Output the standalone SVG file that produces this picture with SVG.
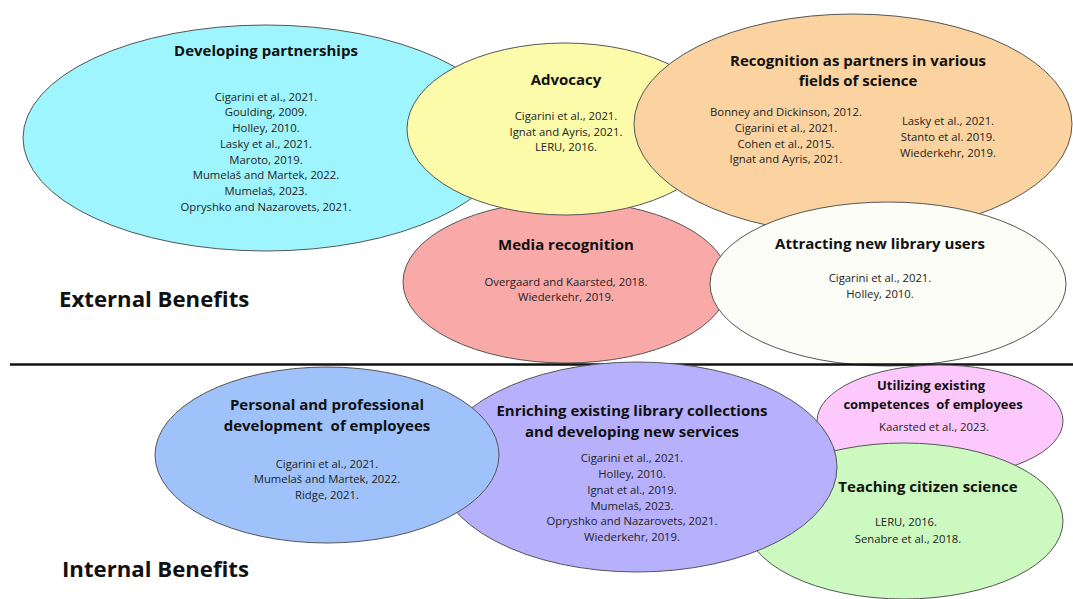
<svg xmlns="http://www.w3.org/2000/svg" width="1073" height="599" viewBox="0 0 1073 599">
<style>
.e{stroke:#555;stroke-width:1}
.t{font-family:"Open Sans","Noto Sans",sans-serif;font-weight:bold;font-size:15px;fill:#111;text-anchor:middle}
.r{font-family:"Open Sans","Noto Sans",sans-serif;font-size:11.3px;fill:#222;text-anchor:middle}
.h{font-family:"Open Sans","Noto Sans",sans-serif;font-weight:bold;font-size:22.2px;fill:#111}
</style>
<rect width="1073" height="599" fill="#fff"/>
<g id="media">
<ellipse class="e" cx="566" cy="282" rx="163" ry="81" fill="#f9a9a8"/>
<text class="t" x="566" y="250">Media recognition</text>
<text class="r" x="566" y="286">Overgaard and Kaarsted, 2018.</text>
<text class="r" x="566" y="301">Wiederkehr, 2019.</text>
</g>
<g id="developing">
<ellipse class="e" cx="266" cy="138" rx="243" ry="113" fill="#9ff5fd"/>
<text class="t" x="266" y="56">Developing partnerships</text>
<text class="r" x="266" y="101">Cigarini et al., 2021.</text>
<text class="r" x="266" y="116">Goulding, 2009.</text>
<text class="r" x="266" y="132">Holley, 2010.</text>
<text class="r" x="266" y="148">Lasky et al., 2021.</text>
<text class="r" x="266" y="164">Maroto, 2019.</text>
<text class="r" x="266" y="179">Mumelaš and Martek, 2022.</text>
<text class="r" x="266" y="195">Mumelaš, 2023.</text>
<text class="r" x="266" y="211">Opryshko and Nazarovets, 2021.</text>
</g>
<g id="advocacy">
<ellipse class="e" cx="565" cy="129" rx="158" ry="86" fill="#fbfba9"/>
<text class="t" x="566" y="85">Advocacy</text>
<text class="r" x="566" y="120">Cigarini et al., 2021.</text>
<text class="r" x="566" y="136">Ignat and Ayris, 2021.</text>
<text class="r" x="566" y="151">LERU, 2016.</text>
</g>
<g id="recognition">
<ellipse class="e" cx="853" cy="124" rx="219" ry="110" fill="#fbd3a0"/>
<text class="t" x="858" y="66">Recognition as partners in various</text>
<text class="t" x="858" y="86">fields of science</text>
<text class="r" x="786" y="116">Bonney and Dickinson, 2012.</text>
<text class="r" x="786" y="132">Cigarini et al., 2021.</text>
<text class="r" x="786" y="148">Cohen et al., 2015.</text>
<text class="r" x="786" y="163">Ignat and Ayris, 2021.</text>
<text class="r" x="948" y="125">Lasky et al., 2021.</text>
<text class="r" x="948" y="141">Stanto et al. 2019.</text>
<text class="r" x="948" y="157">Wiederkehr, 2019.</text>
</g>
<g id="attracting">
<ellipse class="e" cx="888" cy="284" rx="178" ry="82" fill="#fdfdf7"/>
<text class="t" x="880" y="249">Attracting new library users</text>
<text class="r" x="880" y="282">Cigarini et al., 2021.</text>
<text class="r" x="880" y="298">Holley, 2010.</text>
</g>
<g id="connectors">
<line x1="10" y1="364.5" x2="1073" y2="364.5" stroke="#111" stroke-width="2.5"/>
</g>
<text class="h" x="59" y="307">External Benefits</text>
<text class="h" x="62" y="577">Internal Benefits</text>
<g id="utilizing">
<ellipse class="e" cx="940" cy="421" rx="123" ry="56" fill="#fdc8fb"/>
<text class="t" x="931" y="390" style="font-size:13px">Utilizing existing</text>
<text class="t" x="933" y="409" style="font-size:13px" xml:space="preserve">competences  of employees</text>
<text class="r" x="934" y="431">Kaarsted et al., 2023.</text>
</g>
<g id="teaching">
<ellipse class="e" cx="904" cy="521" rx="159" ry="78" fill="#cbf9c0"/>
<text class="t" x="928" y="492">Teaching citizen science</text>
<text class="r" x="906" y="526">LERU, 2016.</text>
<text class="r" x="908" y="543">Senabre et al., 2018.</text>
</g>
<g id="enriching">
<ellipse class="e" cx="637" cy="467" rx="200" ry="105" fill="#b7b0fc"/>
<text class="t" x="632" y="416">Enriching existing library collections</text>
<text class="t" x="632" y="437">and developing new services</text>
<text class="r" x="632" y="462">Cigarini et al., 2021.</text>
<text class="r" x="632" y="478">Holley, 2010.</text>
<text class="r" x="632" y="494">Ignat et al., 2019.</text>
<text class="r" x="632" y="510">Mumelaš, 2023.</text>
<text class="r" x="632" y="525">Opryshko and Nazarovets, 2021.</text>
<text class="r" x="632" y="541">Wiederkehr, 2019.</text>
</g>
<g id="personal">
<ellipse class="e" cx="327" cy="455" rx="172" ry="88" fill="#9fc2fa"/>
<text class="t" x="327" y="410">Personal and professional</text>
<text class="t" x="327" y="431" xml:space="preserve">development  of employees</text>
<text class="r" x="327" y="468">Cigarini et al., 2021.</text>
<text class="r" x="327" y="483">Mumelaš and Martek, 2022.</text>
<text class="r" x="327" y="499">Ridge, 2021.</text>
</g>
</svg>
